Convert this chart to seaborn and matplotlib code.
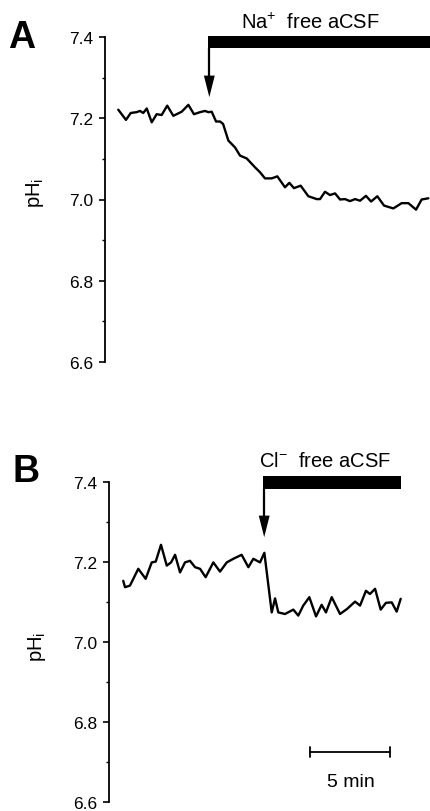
import matplotlib
matplotlib.use("Agg")
import matplotlib.pyplot as plt
import seaborn as sns
import numpy as np
import pandas as pd
from matplotlib.patches import Rectangle, Polygon

sns.set_theme(style="white")
plt.rcParams['font.family'] = ['Liberation Sans', 'DejaVu Sans']
plt.rcParams['mathtext.fontset'] = 'custom'
plt.rcParams['mathtext.rm'] = 'Liberation Sans'
plt.rcParams['mathtext.it'] = 'Liberation Sans:italic'
plt.rcParams['mathtext.bf'] = 'Liberation Sans:bold'
for k in ('text.color', 'axes.labelcolor', 'xtick.color', 'ytick.color', 'axes.edgecolor'):
    plt.rcParams[k] = 'black'

# ---------------- data ----------------
A_time = [0.83, 1.31, 1.61, 1.98, 2.19, 2.39, 2.61, 2.92, 3.23, 3.54, 3.89, 4.27, 4.79, 5.21,
          5.56, 5.94, 6.25, 6.46, 6.67, 6.94, 7.19, 7.38, 7.71, 8.13, 8.44, 8.86, 9.38, 9.69,
          10.0, 10.42, 10.77, 11.25, 11.52, 11.81, 12.23, 12.71, 13.23, 13.44, 13.75, 14.06,
          14.38, 14.69, 15.0, 15.31, 15.63, 15.94, 16.31, 16.63, 17.02, 17.44, 18.02, 18.54,
          18.96, 19.44, 19.79, 20.21]
A_ph = [7.221, 7.196, 7.213, 7.215, 7.218, 7.213, 7.224, 7.190, 7.210, 7.208, 7.231, 7.206,
        7.216, 7.233, 7.210, 7.215, 7.218, 7.215, 7.216, 7.192, 7.192, 7.186, 7.145, 7.128,
        7.108, 7.101, 7.079, 7.067, 7.052, 7.052, 7.057, 7.030, 7.041, 7.028, 7.034, 7.008,
        7.001, 7.001, 7.019, 7.011, 7.015, 7.000, 7.001, 6.996, 7.001, 6.997, 7.009, 6.995,
        7.008, 6.985, 6.978, 6.991, 6.991, 6.975, 7.000, 7.003]

B_time = [0.89, 1.0, 1.31, 1.83, 2.29, 2.67, 2.92, 3.25, 3.61, 3.88, 4.13, 4.44, 4.75, 5.06,
          5.38, 5.69, 6.04, 6.52, 6.94, 7.36, 7.77, 8.29, 8.71, 9.02, 9.44, 9.71, 10.17, 10.38,
          10.58, 11.0, 11.52, 11.83, 12.14, 12.52, 12.94, 13.29, 13.56, 13.92, 14.44, 14.89,
          15.38, 15.69, 16.06, 16.31, 16.63, 16.98, 17.31, 17.67, 17.98, 18.23]
B_ph = [7.153, 7.137, 7.141, 7.183, 7.158, 7.199, 7.201, 7.243, 7.191, 7.199, 7.218, 7.174,
        7.199, 7.203, 7.187, 7.183, 7.162, 7.199, 7.176, 7.199, 7.208, 7.218, 7.187, 7.208,
        7.199, 7.223, 7.074, 7.109, 7.074, 7.070, 7.081, 7.066, 7.091, 7.112, 7.064, 7.093,
        7.074, 7.112, 7.070, 7.083, 7.101, 7.091, 7.128, 7.120, 7.133, 7.081, 7.098, 7.099,
        7.076, 7.108]

y_major = [6.6, 6.8, 7.0, 7.2, 7.4]
y_minor = [6.7, 6.9, 7.1, 7.3]
y_labels = ["6.6", "6.8", "7.0", "7.2", "7.4"]

panel_letters = ["A", "B"]
solution_labels = ["Na$^{+}$  free aCSF", "Cl$^{-}$  free aCSF"]
solution_start = [6.44, 9.62]     # min, onset of solution change
solution_end = [20.4, 18.25]
scale_minutes = 5
scale_label = "5 min"

# ---------------- figure ----------------
W, H = 430, 812
fig = plt.figure(figsize=(W / 100, H / 100), dpi=100)

def make_axes(ax_left_px, top_px, bottom_px, pct):
    ax = fig.add_axes([ax_left_px / W, (H - bottom_px) / H,
                       (W - ax_left_px) / W, (bottom_px - top_px) / H])
    ax.set_xlim(0, (W - ax_left_px) / 16.0)
    ax.set_ylim(6.6, 7.4 + (bottom_px - top_px - 0.8 * pct) / pct)
    return ax

axA = make_axes(105, 0, 363, 406.25)
axB = make_axes(109, 440, 803, 400.0)

dfA = pd.DataFrame({"t": A_time, "ph": A_ph})
dfB = pd.DataFrame({"t": B_time, "ph": B_ph})

for ax, df in ((axA, dfA), (axB, dfB)):
    sns.lineplot(data=df, x="t", y="ph", ax=ax, color="black", linewidth=1.7,
                 sort=False, estimator=None)
    for s in ("top", "right", "bottom"):
        ax.spines[s].set_visible(False)
    ax.spines["left"].set_bounds(6.6, 7.4)
    ax.spines["left"].set_linewidth(1.3)
    ax.spines["left"].set_color("black")
    ax.set_yticks(y_major)
    ax.set_yticklabels(y_labels)
    ax.set_yticks(y_minor, minor=True)
    ax.tick_params(axis="y", which="major", direction="out", length=4.5, width=1.2,
                   labelsize=12.5, pad=4, left=True, colors="black")
    ax.tick_params(axis="y", which="minor", direction="out", length=2.2, width=1.0,
                   left=True, color="black")
    ax.set_xticks([])
    ax.set_xlabel("")
    ax.set_ylabel("")
    ax.set_facecolor("white")

def draw_solution(ax, t0, t1, bar_bot, bar_top, head_base, tip, label, lab_x, lab_y):
    ax.add_patch(Rectangle((t0, bar_bot), t1 - t0, bar_top - bar_bot,
                           facecolor="black", edgecolor="none", clip_on=False))
    stem_x = t0 + 0.08
    ax.plot([stem_x, stem_x], [bar_bot, head_base], color="black", lw=1.6,
            solid_capstyle="butt", clip_on=False)
    hw = 0.34
    ax.add_patch(Polygon([[stem_x - hw, head_base], [stem_x + hw, head_base], [stem_x, tip]],
                         closed=True, facecolor="black", edgecolor="none", clip_on=False))
    ax.text(lab_x, lab_y, label, ha="center", va="baseline", fontsize=14.5, color="black")

draw_solution(axA, solution_start[0], solution_end[0], 7.373, 7.4025, 7.305, 7.252,
              solution_labels[0], 12.81, 7.421)
draw_solution(axB, solution_start[1], solution_end[1], 7.383, 7.414, 7.316, 7.262,
              solution_labels[1], 13.53, 7.44)

# y labels
axA.text(-0.215, 0.468, "pH$_\\mathrm{i}$", transform=axA.transAxes, rotation=90,
         ha="center", va="center", fontsize=14.5)
axB.text(-0.224, 0.43, "pH$_\\mathrm{i}$", transform=axB.transAxes, rotation=90,
         ha="center", va="center", fontsize=14.5)

# scale bar
sb0 = 12.56
sb_y = 6.725
axB.plot([sb0, sb0 + scale_minutes], [sb_y, sb_y], color="black", lw=1.3, clip_on=False)
for xx in (sb0, sb0 + scale_minutes):
    axB.plot([xx, xx], [sb_y - 0.0125, sb_y + 0.0125], color="black", lw=1.3, clip_on=False)
axB.text(sb0 + scale_minutes / 2 + 0.06, 6.641, scale_label, ha="center", va="baseline",
         fontsize=14)

# panel letters
fig.text(21.7 / W, 1 - 37.5 / H, panel_letters[0], ha="center", va="center",
         fontsize=27, fontweight="bold", color="black")
fig.text(26 / W, 1 - 471.5 / H, panel_letters[1], ha="center", va="center",
         fontsize=27, fontweight="bold", color="black")

fig.savefig("out.png", dpi=100, facecolor="white")
